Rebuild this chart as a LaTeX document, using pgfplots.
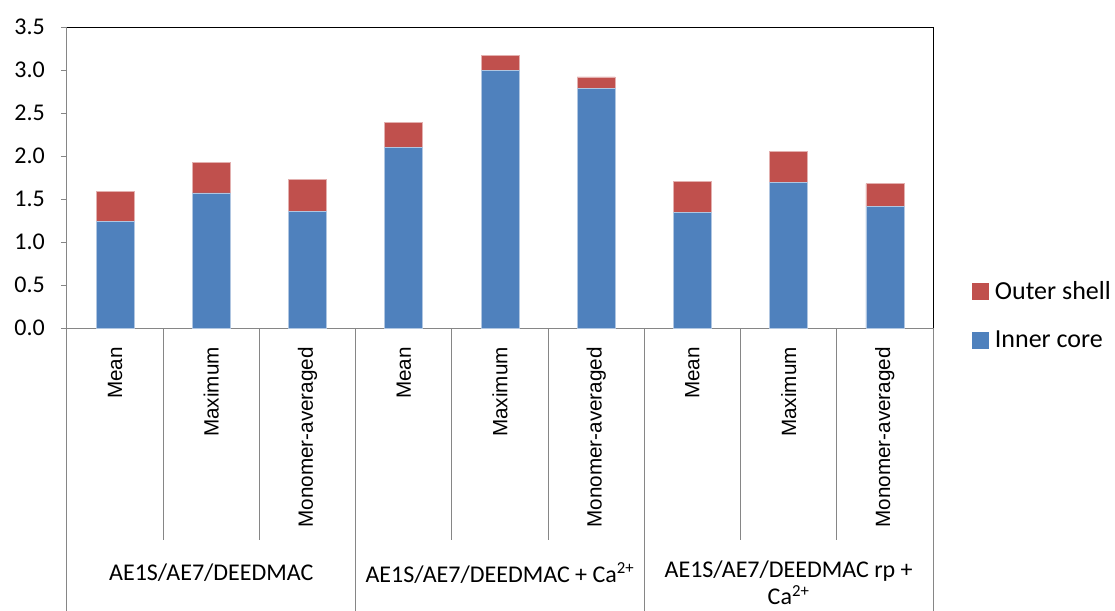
\documentclass[border=0pt]{standalone}
\usepackage{pgfplots}
\pgfplotsset{compat=1.18}
\usepackage{fontspec}
\setmainfont{Carlito}
\newfontfamily\arialf{Liberation Sans}
\definecolor{bblue}{RGB}{79,129,189}
\definecolor{bred}{RGB}{192,80,77}
\definecolor{axgray}{RGB}{134,134,134}
\begin{document}
\begin{tikzpicture}
\useasboundingbox (0,0) rectangle (836.25pt,458.25pt);
\begin{axis}[
  at={(50.25pt,212.25pt)}, anchor=south west,
  width=649.5pt, height=225.75pt, scale only axis,
  xmin=-0.5, xmax=8.5, ymin=0, ymax=3.5,
  ybar stacked, bar width=28.5pt,
  ytick={0,0.5,1,1.5,2,2.5,3,3.5},
  xtick=\empty,
  axis x line*=bottom, axis y line*=left,
  axis line style={-, draw=axgray, line width=0.75pt},
  ytick style={draw=axgray, line width=0.75pt},
  tick align=outside, major tick length=4.5pt,
  yticklabel={\pgfmathprintnumber[fixed,fixed zerofill,precision=1]{\tick}},
  /pgf/number format/assume math mode=true,
  yticklabel style={font=\fontsize{18}{20}\selectfont, inner sep=0pt, xshift=-12pt},
  clip=false,
  reverse legend,
  legend cell align=left,
  legend style={draw=none, fill=none, at={(1.045,0.156)}, anchor=north west,
    font=\fontsize{19.5}{22}\selectfont, row sep=22pt, column sep=4.5pt, inner sep=0pt,
    nodes={inner sep=0pt}},
]
\addplot[fill=bblue, draw=white!55!bblue, line width=0.5pt,
  legend image code/.code={\fill[bblue] (0pt,-6pt) rectangle (12pt,6pt);}]
  coordinates {(0,1.24) (1,1.57) (2,1.36) (3,2.10) (4,3.00) (5,2.79) (6,1.34) (7,1.69) (8,1.41)};
\addlegendentry{Inner core}
\addplot[fill=bred, draw=white!55!bred, line width=0.5pt,
  legend image code/.code={\fill[bred] (0pt,-6pt) rectangle (12pt,6pt);}]
  coordinates {(0,0.35) (1,0.36) (2,0.37) (3,0.29) (4,0.17) (5,0.13) (6,0.36) (7,0.36) (8,0.27)};
\addlegendentry{Outer shell}
% plot area border (top and right)
\draw[black, line width=0.75pt] (rel axis cs:0,1) -- (rel axis cs:1,1) -- (rel axis cs:1,0);
% category separators
\tikzset{sep/.style={axgray, line width=0.75pt}}
\draw[sep] (axis cs:-0.5,0) -- ([yshift=-212.25pt]axis cs:-0.5,0);
\draw[sep] (axis cs:0.5,0) -- ([yshift=-159pt]axis cs:0.5,0);
\draw[sep] (axis cs:1.5,0) -- ([yshift=-159pt]axis cs:1.5,0);
\draw[sep] (axis cs:2.5,0) -- ([yshift=-212.25pt]axis cs:2.5,0);
\draw[sep] (axis cs:3.5,0) -- ([yshift=-159pt]axis cs:3.5,0);
\draw[sep] (axis cs:4.5,0) -- ([yshift=-159pt]axis cs:4.5,0);
\draw[sep] (axis cs:5.5,0) -- ([yshift=-212.25pt]axis cs:5.5,0);
\draw[sep] (axis cs:6.5,0) -- ([yshift=-159pt]axis cs:6.5,0);
\draw[sep] (axis cs:7.5,0) -- ([yshift=-159pt]axis cs:7.5,0);
\draw[sep] (axis cs:8.5,0) -- ([yshift=-212.25pt]axis cs:8.5,0);
% sub-category labels
\tikzset{sublab/.style={rotate=90, anchor=east, inner sep=0pt, font=\arialf\fontsize{15.5}{18}\selectfont}}
\node[sublab] at ([yshift=-14.25pt]axis cs:0,0) {Mean};
\node[sublab] at ([yshift=-14.25pt]axis cs:1,0) {Maximum};
\node[sublab] at ([yshift=-14.25pt]axis cs:2,0) {Monomer-averaged};
\node[sublab] at ([yshift=-14.25pt]axis cs:3,0) {Mean};
\node[sublab] at ([yshift=-14.25pt]axis cs:4,0) {Maximum};
\node[sublab] at ([yshift=-14.25pt]axis cs:5,0) {Monomer-averaged};
\node[sublab] at ([yshift=-14.25pt]axis cs:6,0) {Mean};
\node[sublab] at ([yshift=-14.25pt]axis cs:7,0) {Maximum};
\node[sublab] at ([yshift=-14.25pt]axis cs:8,0) {Monomer-averaged};
% group labels
\tikzset{grplab/.style={inner sep=0pt, font=\fontsize{18}{20}\selectfont}}
\node[grplab] at ([yshift=-183.75pt]axis cs:1,0) {AE1S/AE7/DEEDMAC};
\node[grplab] at ([yshift=-183.75pt]axis cs:4,0) {AE1S/AE7/DEEDMAC + Ca\textsuperscript{2+}};
\node[grplab] at ([yshift=-182.25pt]axis cs:7,0) {AE1S/AE7/DEEDMAC rp +};
\node[grplab] at ([yshift=-200.25pt]axis cs:7,0) {Ca\textsuperscript{2+}};
\end{axis}
\end{tikzpicture}
\end{document}
